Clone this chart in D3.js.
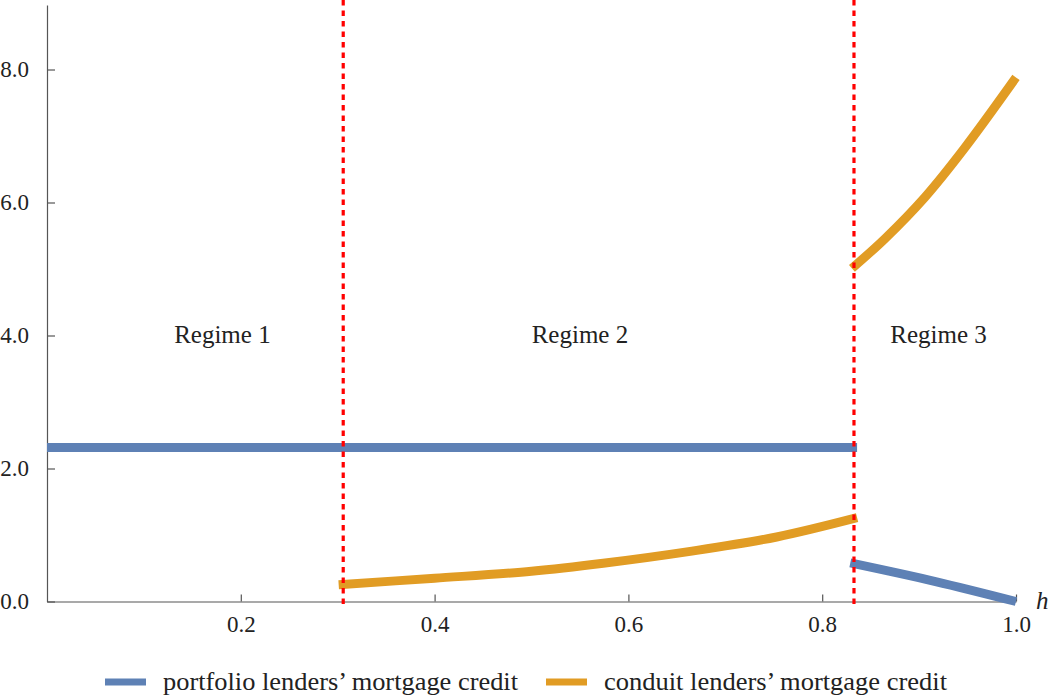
<!doctype html>
<html lang="en">
<head>
  <meta charset="utf-8">
  <title>Mortgage credit by regime</title>
  <script src="https://d3js.org/d3.v7.min.js"></script>
  <style>
    body { margin: 0; background: #fff; }
    svg text { font-family: 'Liberation Serif', 'Tinos', 'Times New Roman', serif !important; }
  </style>
</head>
<body>
  <div id="chart"></div>
  <script type="text/javascript">

    var width = 1055, height = 700;
    var fontName = "'Liberation Serif', 'Tinos', 'Times New Roman', serif";

    // regime boundaries (dashed red lines)
    var boundaries = [0.3057, 0.8328];

    // portfolio lenders' mortgage credit, two pieces
    var portfolioA = [[0, 2.316], [0.836, 2.316]];
    var portfolioB = [[0.829, 0.58], [0.917, 0.30], [1.0, 0.0]];

    // conduit lenders' mortgage credit, two pieces
    var conduitA = [[0.301, 0.253], [0.4, 0.35], [0.5, 0.455], [0.574, 0.575],
                    [0.662, 0.75], [0.753, 0.97], [0.836, 1.26]];
    var conduitB = [[0.8307, 5.01], [0.865, 5.46], [0.906, 6.08], [0.947, 6.82],
                    [1.0, 7.88]];

    var regimeLabels = [
      { h: 0.181, v: 4.0, text: 'Regime 1' },
      { h: 0.550, v: 4.0, text: 'Regime 2' },
      { h: 0.920, v: 4.0, text: 'Regime 3' }
    ];

    var xTicks = [0.2, 0.4, 0.6, 0.8, 1.0];
    var yTicks = [0.0, 2.0, 4.0, 6.0, 8.0];

    var legendItems = [
      { name: 'portfolio lenders\u2019 mortgage credit', color: '#5E81B5' },
      { name: 'conduit lenders\u2019 mortgage credit', color: '#E19C24' }
    ];

    var x = d3.scaleLinear().domain([0, 1]).range([47, 1016]);
    var y = d3.scaleLinear().domain([0, 8.97]).range([601.5, 5]);

    var svg = d3.select('#chart')
                .append('svg')
                .attr('width', width)
                .attr('height', height)
                .attr('font-family', fontName);

    // axes
    var xAxis = d3.axisBottom(x)
                  .tickValues(xTicks)
                  .tickSizeInner(-7)
                  .tickSizeOuter(0)
                  .tickPadding(14)
                  .tickFormat(d3.format('.1f'));

    var yAxis = d3.axisLeft(y)
                  .tickValues(yTicks)
                  .tickSizeInner(-8)
                  .tickSizeOuter(0)
                  .tickPadding(18)
                  .tickFormat(d3.format('.1f'));

    var gx = svg.append('g')
                .attr('transform', 'translate(0,' + y(0) + ')')
                .call(xAxis);

    var gy = svg.append('g')
                .attr('transform', 'translate(' + x(0) + ',0)')
                .call(yAxis);

    [gx, gy].forEach(function(g) {
      g.attr('font-family', fontName).attr('font-size', 23);
      g.select('.domain').attr('stroke', '#555').attr('stroke-width', 1.2);
      g.selectAll('.tick line').attr('stroke', '#555').attr('stroke-width', 1.2);
      g.selectAll('.tick text').attr('fill', '#222');
    });

    svg.append('text')
       .attr('x', 1036)
       .attr('y', y(0) + 7)
       .attr('font-size', 25)
       .attr('font-style', 'italic')
       .attr('fill', '#222')
       .text('h');

    // series
    var line = d3.line()
                 .x(function(d) { return x(d[0]); })
                 .y(function(d) { return y(d[1]); })
                 .curve(d3.curveCatmullRom);

    var pieces = [
      { data: portfolioA, color: legendItems[0].color },
      { data: portfolioB, color: legendItems[0].color },
      { data: conduitA, color: legendItems[1].color },
      { data: conduitB, color: legendItems[1].color }
    ];

    svg.selectAll('.piece')
       .data(pieces)
       .enter()
       .append('path')
       .attr('class', 'piece')
       .attr('d', function(d) { return line(d.data); })
       .attr('fill', 'none')
       .attr('stroke', function(d) { return d.color; })
       .attr('stroke-width', 9);

    // regime boundaries
    svg.selectAll('.boundary')
       .data(boundaries)
       .enter()
       .append('line')
       .attr('class', 'boundary')
       .attr('x1', function(d) { return x(d); })
       .attr('x2', function(d) { return x(d); })
       .attr('y1', 0)
       .attr('y2', 608)
       .attr('stroke', '#FF0000')
       .attr('stroke-width', 3.2)
       .attr('stroke-dasharray', '5.5,5');

    svg.selectAll('.regime')
       .data(regimeLabels)
       .enter()
       .append('text')
       .attr('class', 'regime')
       .attr('x', function(d) { return x(d.h); })
       .attr('y', function(d) { return y(d.v); })
       .attr('dy', '0.3em')
       .attr('text-anchor', 'middle')
       .attr('font-size', 25)
       .attr('fill', '#222')
       .text(function(d) { return d.text; });

    // legend
    var legendX = [105, 546];
    var legendW = [355, 343];
    var legend = svg.selectAll('.legend')
                    .data(legendItems)
                    .enter()
                    .append('g')
                    .attr('class', 'legend')
                    .attr('transform', function(d, i) { return 'translate(' + legendX[i] + ',682)'; });

    legend.append('line')
          .attr('x1', 0).attr('x2', 41)
          .attr('y1', 0).attr('y2', 0)
          .attr('stroke', function(d) { return d.color; })
          .attr('stroke-width', 7);

    legend.append('text')
          .attr('x', 58)
          .attr('dy', '0.3em')
          .attr('font-size', 25)
          .attr('fill', '#222')
          .attr('textLength', function(d, i) { return legendW[i]; })
          .attr('lengthAdjust', 'spacingAndGlyphs')
          .text(function(d) { return d.name; });

  </script>
</body>
</html>
